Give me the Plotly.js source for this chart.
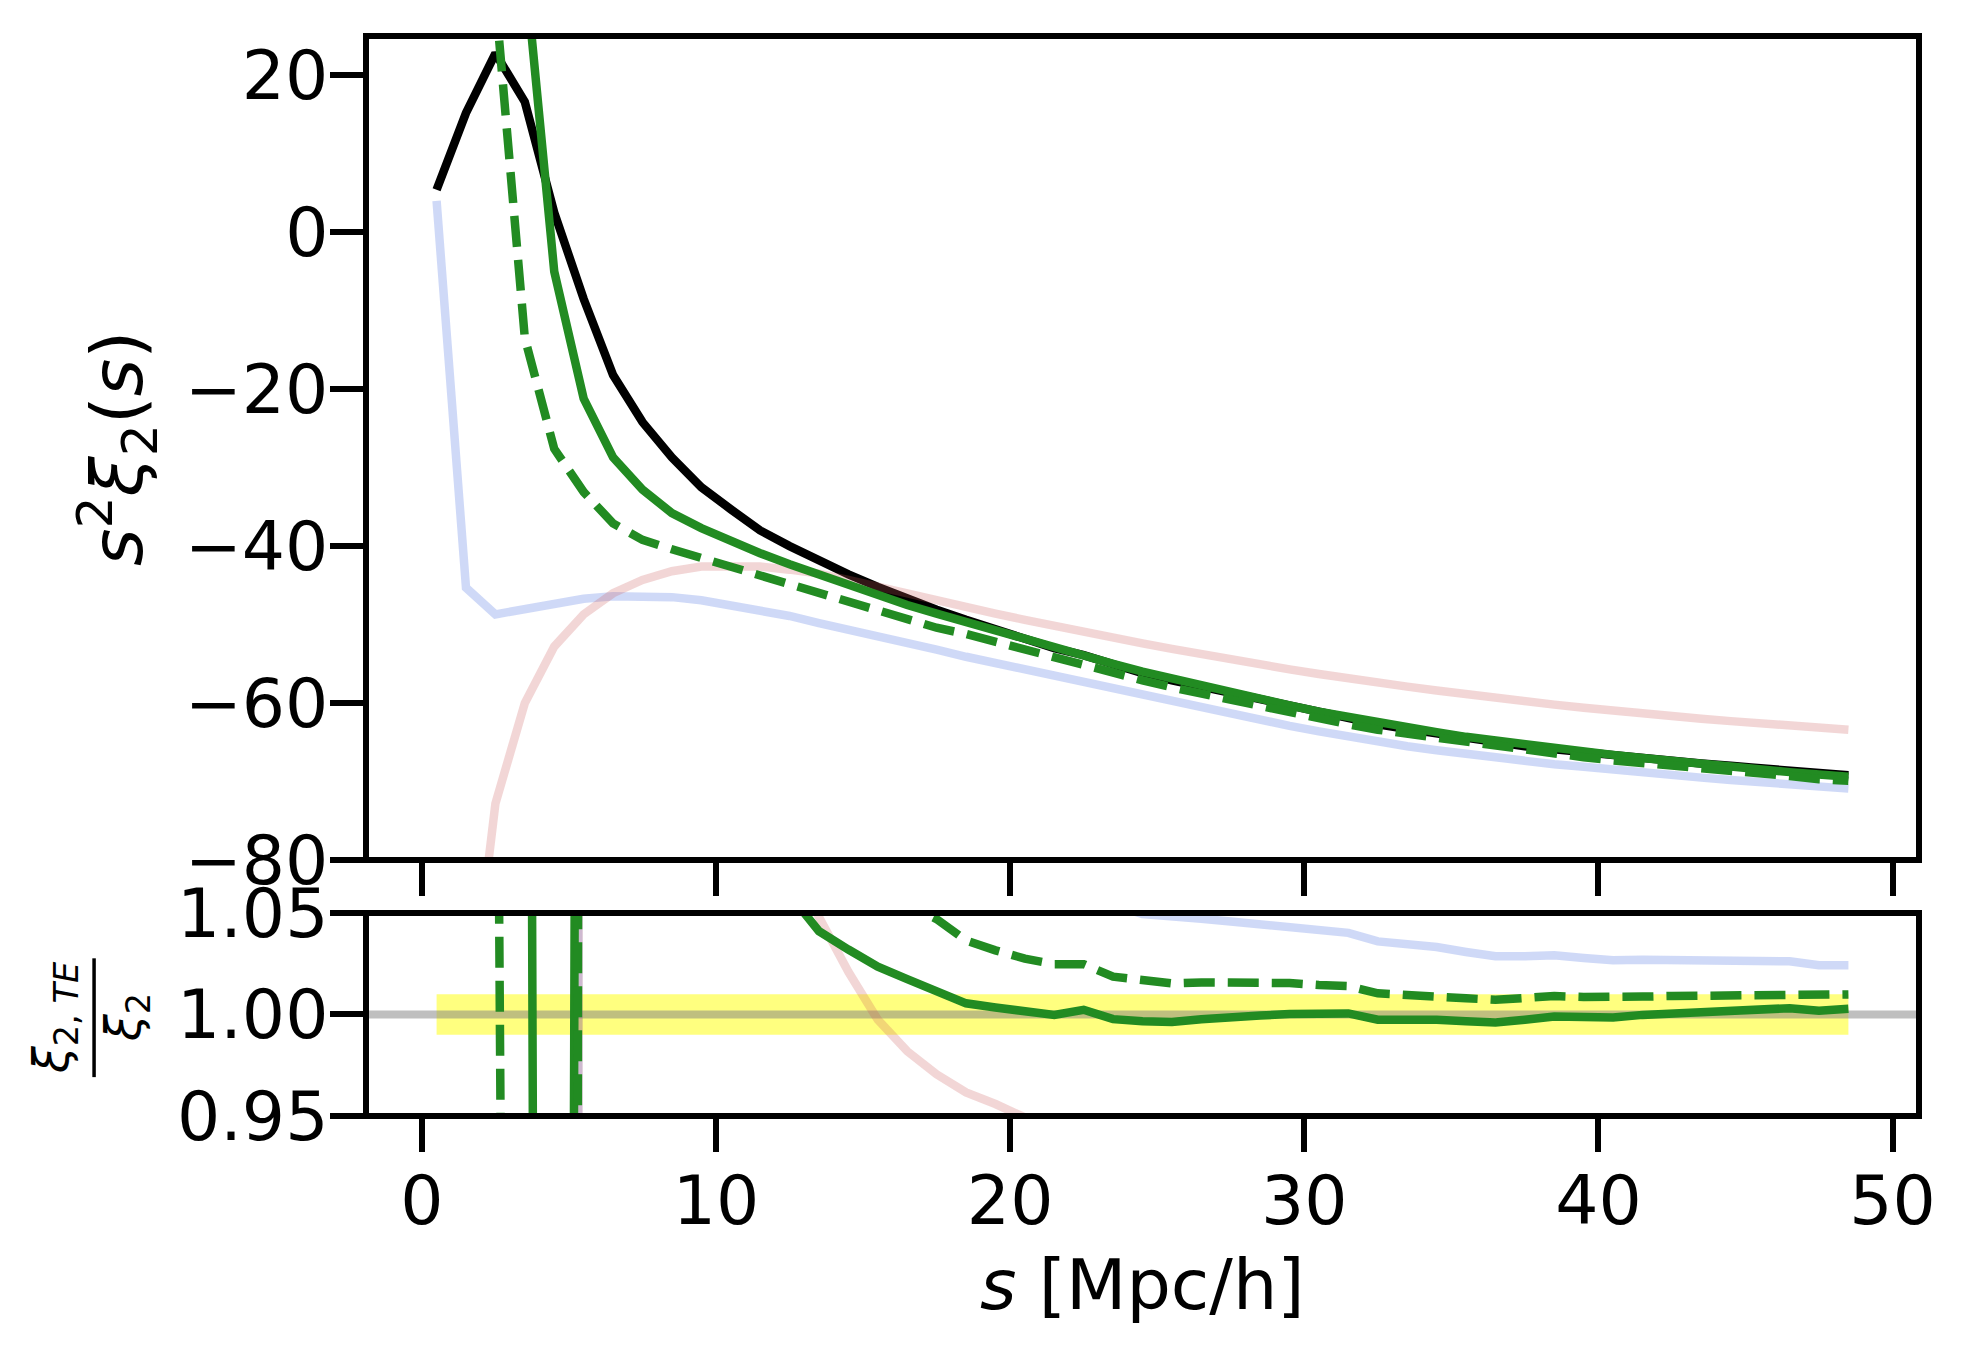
<!DOCTYPE html>
<html>
<head>
<meta charset="utf-8">
<script src="https://cdn.plot.ly/plotly-3.0.1.min.js"></script>
<style>html,body{margin:0;padding:0;background:#fff;}#plot{width:1963px;height:1350px;}</style>
</head>
<body>
<div id="plot"></div>
<script>
// separation s [Mpc/h]
const s = [0.5,1.5,2.5,3.5,4.5,5.5,6.5,7.5,8.5,9.5,10.5,11.5,12.5,13.5,14.5,15.5,16.5,17.5,18.5,19.5,
           20.5,21.5,22.5,23.5,24.5,25.5,26.5,27.5,28.5,29.5,30.5,31.5,32.5,33.5,34.5,35.5,36.5,37.5,38.5,39.5,
           40.5,41.5,42.5,43.5,44.5,45.5,46.5,47.5,48.5];

// top panel: s^2 xi_2(s)
const xi2Ref = [5.4,15.2,22.8,16.6,2.5,-8.5,-18.2,-24.2,-28.7,-32.5,-35.3,-38.0,-40.0,-41.9,-43.6,-45.2,-46.7,-48.1,-49.4,-50.6,
                -51.8,-53.0,-53.9,-55.1,-56.2,-57.1,-57.9,-58.8,-59.5,-60.3,-61.1,-61.8,-62.7,-63.3,-63.9,-64.5,-65.1,-65.5,-65.9,-66.3,
                -66.7,-67.0,-67.4,-67.7,-68.0,-68.3,-68.6,-69.0,-69.2];
const xi2TE = [null,null,null,34,-5.0,-21.2,-28.7,-32.8,-35.8,-37.7,-39.4,-40.9,-42.3,-43.6,-45.0,-46.3,-47.5,-48.6,-49.7,-50.8,
               -51.9,-53.0,-54.0,-55.0,-56.0,-56.9,-57.8,-58.7,-59.5,-60.3,-61.1,-61.8,-62.5,-63.1,-63.7,-64.3,-64.8,-65.3,-65.8,-66.2,
               -66.6,-67.0,-67.4,-67.8,-68.1,-68.5,-68.8,-69.1,-69.4];
const xi2TEdash = [null,null,30,-13.5,-27.6,-33.1,-37.1,-39.2,-40.4,-41.5,-42.5,-43.6,-44.7,-46.0,-47.0,-48.2,-49.2,-50.4,-51.2,-52.2,
                   -53.2,-54.3,-55.2,-56.1,-57.1,-58.0,-58.8,-59.7,-60.4,-61.2,-62.0,-62.7,-63.4,-63.9,-64.5,-65.0,-65.6,-66.0,-66.5,-66.9,
                   -67.3,-67.6,-68.0,-68.3,-68.7,-69.0,-69.3,-69.7,-69.9];
const xi2Blue = [4.0,-45.3,-48.7,-48.1,-47.3,-46.7,-46.4,-46.4,-46.5,-46.9,-47.5,-48.1,-48.9,-49.8,-50.6,-51.4,-52.3,-53.2,-54.1,-54.9,
                 -55.7,-56.5,-57.3,-58.1,-59.0,-59.8,-60.6,-61.5,-62.2,-62.9,-63.6,-64.3,-65.0,-65.5,-66.0,-66.5,-67.0,-67.4,-67.8,-68.1,
                 -68.5,-68.8,-69.2,-69.5,-69.8,-70.1,-70.4,-70.7,-70.9];
const xi2Red = [null,-104,-72.8,-60.0,-52.8,-48.7,-46.0,-44.3,-43.2,-42.6,-42.5,-42.6,-43.0,-43.5,-44.3,-45.2,-46.1,-47.0,-47.8,-48.6,
                -49.4,-50.2,-50.9,-51.6,-52.4,-53.1,-53.8,-54.5,-55.1,-55.7,-56.3,-56.9,-57.4,-57.9,-58.4,-58.9,-59.4,-59.8,-60.2,-60.6,
                -61.0,-61.4,-61.7,-62.0,-62.3,-62.6,-62.9,-63.1,-63.4];

// bottom panel: ratios to the reference
const ratioTE = [null,null,null,2.05,-2.0,2.4,1.58,1.36,1.245,1.163,1.116,1.076,1.059,1.041,1.032,1.0235,1.0174,1.0112,1.0055,1.0034,
                 1.0018,0.9998,1.0023,0.9977,0.9967,0.9963,0.9977,0.9989,0.9995,1.0002,1.0002,1.0005,0.9974,0.9976,0.9974,0.9967,0.9961,0.9974,0.999,0.9987,
                 0.9985,0.9998,1.0003,1.0008,1.0015,1.0023,1.0031,1.0018,1.0028];
const ratioTEdash = [null,null,1.32,-0.81,-11.0,3.9,2.03,1.62,1.41,1.277,1.204,1.147,1.117,1.098,1.078,1.066,1.054,1.047,1.0365,1.0316,
                     1.0275,1.0248,1.0248,1.0186,1.0165,1.0153,1.0158,1.0158,1.0156,1.0155,1.0145,1.014,1.0104,1.0099,1.0093,1.008,1.0072,1.008,1.0091,1.0086,
                     1.0083,1.0088,1.0091,1.0093,1.0096,1.0099,1.0104,1.0096,1.0099];
const ratioBlue = [0.74,-2.98,-2.14,-2.9,-18.9,5.49,2.55,1.92,1.62,1.443,1.346,1.266,1.2225,1.188,1.161,1.137,1.12,1.106,1.095,1.085,
                   1.075,1.066,1.063,1.054,1.0495,1.0479,1.0471,1.0458,1.0446,1.0435,1.0414,1.0402,1.036,1.0349,1.0332,1.0308,1.0287,1.0287,1.0292,1.0278,
                   1.0267,1.027,1.0267,1.0264,1.0259,1.0262,1.0262,1.0243,1.0243];
const ratioRed = [null,-6.84,-3.19,-3.61,-21.1,5.73,2.53,1.83,1.505,1.31,1.204,1.121,1.075,1.049,1.021,0.9974,0.9819,0.9705,0.9616,0.9559,
                  0.9493,0.945,0.944,0.937,0.932,0.930,0.929,0.927,0.926,0.924,0.921,0.921,0.915,0.915,0.914,0.913,0.912,0.913,0.913,0.915,
                  0.915,0.916,0.915,0.916,0.916,0.917,0.917,0.915,0.916];

// 1% band and unity reference
const bandLow = 0.99, bandHigh = 1.01;
const unity = 1.0;

// axis settings
const xRange = [-1.9, 50.9];
const yTopRange = [-80, 25];
const yBotRange = [0.95, 1.05];
const xTicks = [0, 10, 20, 30, 40, 50];
const yTopTicks = [-80, -60, -40, -20, 0, 20];
const yBotTicks = [0.95, 1.00, 1.05];
const yBotTickText = ['0.95', '1.00', '1.05'];

const LW = 8.5;
const GREEN = '#228b22';
const BLUE = 'rgba(65,105,225,0.25)';
const RED = 'rgba(205,92,92,0.25)';
const DASH = '31px,13px';
const FONT = 'DejaVu Sans';

function line(x, y, color, xa, ya, dash) {
  return {x: x, y: y, type: 'scatter', mode: 'lines', xaxis: xa, yaxis: ya,
          line: {color: color, width: LW, dash: dash || 'solid'},
          hoverinfo: 'skip', showlegend: false, connectgaps: false};
}

const bandX = [s[0], s[s.length-1], s[s.length-1], s[0]];
const bandY = [bandLow, bandLow, bandHigh, bandHigh];

const traces = [
  line(s, xi2Ref, 'black', 'x', 'y'),
  line(s, xi2Blue, BLUE, 'x', 'y'),
  line(s, xi2Red, RED, 'x', 'y'),
  line(s, xi2TE, GREEN, 'x', 'y'),
  line(s, xi2TEdash, GREEN, 'x', 'y', DASH),
  {x: bandX, y: bandY, type: 'scatter', mode: 'lines', fill: 'toself',
   fillcolor: 'rgba(255,255,0,0.5)', line: {width: 0}, xaxis: 'x2', yaxis: 'y2',
   hoverinfo: 'skip', showlegend: false},
  {x: xRange, y: [unity, unity], type: 'scatter', mode: 'lines',
   line: {color: 'rgba(128,128,128,0.5)', width: 8}, xaxis: 'x2', yaxis: 'y2',
   hoverinfo: 'skip', showlegend: false},
  line(s, ratioBlue, BLUE, 'x2', 'y2'),
  line(s, ratioRed, RED, 'x2', 'y2'),
  line(s, ratioTE, GREEN, 'x2', 'y2'),
  line(s, ratioTEdash, GREEN, 'x2', 'y2', DASH)
];

const tickFont = {family: FONT, size: 68, color: 'black'};
const axisCommon = {showgrid: false, zeroline: false, showline: false, ticks: 'outside',
                    ticklen: 35, tickwidth: 6, tickcolor: 'black', tickfont: tickFont,
                    ticklabelstandoff: -12};

const layout = {
  width: 1963, height: 1350,
  margin: {l: 366, r: 44, t: 36, b: 234, pad: 0},
  paper_bgcolor: 'white', plot_bgcolor: 'white',
  font: {family: FONT, color: 'black'},
  showlegend: false,
  xaxis: Object.assign({}, axisCommon, {domain: [0, 1], range: xRange, anchor: 'y',
          tickvals: xTicks, showticklabels: false, matches: 'x2'}),
  yaxis: Object.assign({}, axisCommon, {domain: [0.237, 1], range: yTopRange, anchor: 'x',
          tickvals: yTopTicks}),
  xaxis2: Object.assign({}, axisCommon, {domain: [0, 1], range: xRange, anchor: 'y2',
          tickvals: xTicks, ticklabelstandoff: -10}),
  yaxis2: Object.assign({}, axisCommon, {domain: [0, 0.188], range: yBotRange, anchor: 'x2',
          tickvals: yBotTicks, ticktext: yBotTickText}),
  shapes: [
    {type: 'rect', xref: 'x domain', yref: 'y domain', x0: 0, x1: 1, y0: 0, y1: 1,
     line: {color: 'black', width: 6}, layer: 'above'},
    {type: 'rect', xref: 'x2 domain', yref: 'y2 domain', x0: 0, x1: 1, y0: 0, y1: 1,
     line: {color: 'black', width: 6}, layer: 'above'},
    // fraction bar of the lower y label
    {type: 'line', xref: 'paper', yref: 'paper', x0: -0.1751, x1: -0.1751, y0: 0.036, y1: 0.146,
     line: {color: 'black', width: 3.5}}
  ],
  annotations: [
    {xref: 'paper', yref: 'paper', x: -0.1603, y: 0.6185, xanchor: 'center', yanchor: 'middle',
     textangle: -90, showarrow: false,
     text: '<i>s</i><sup>2</sup><i>ξ</i><sub>2</sub>(<i>s</i>)',
     font: {family: FONT, size: 72, color: 'black'}},
    {xref: 'paper', yref: 'paper', x: 0.5, y: -0.1565, xanchor: 'center', yanchor: 'middle',
     showarrow: false, text: '<i>s</i> [Mpc/h]',
     font: {family: FONT, size: 70, color: 'black'}},
    {xref: 'paper', yref: 'paper', x: -0.2009, y: 0.0907, xanchor: 'center', yanchor: 'middle',
     textangle: -90, showarrow: false, text: '<i>ξ</i><sub>2, <i>TE</i></sub>',
     font: {family: FONT, size: 48, color: 'black'}},
    {xref: 'paper', yref: 'paper', x: -0.1545, y: 0.0907, xanchor: 'center', yanchor: 'middle',
     textangle: -90, showarrow: false, text: '<i>ξ</i><sub>2</sub>',
     font: {family: FONT, size: 48, color: 'black'}}
  ]
};

Plotly.newPlot('plot', traces, layout, {staticPlot: true, displayModeBar: false});
</script>
</body>
</html>
